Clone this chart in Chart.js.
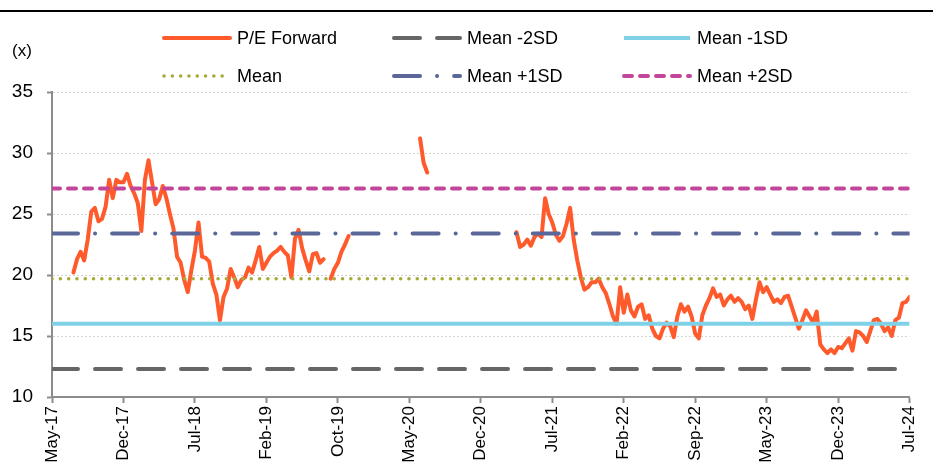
<!DOCTYPE html>
<html>
<head>
<meta charset="utf-8">
<script src="https://cdn.jsdelivr.net/npm/chart.js@4.4.1/dist/chart.umd.min.js"></script>
<style>
  body { margin: 0; background: #fff; }
  #wrap { width: 933px; height: 468px; position: relative; }
</style>
</head>
<body>
<div id="wrap"><canvas id="peChart"></canvas></div>
<script>
// x tick labels, one every 20 points
const tickLabels = ["May-17", "Dec-17", "Jul-18", "Feb-19", "Oct-19", "May-20", "Dec-20",
  "Jul-21", "Feb-22", "Sep-22", "May-23", "Dec-23", "Jul-24"];
const pointsPerTick = 20;

// P/E forward (x), gaps are null
const peForward = [
  null, null, null, null, null, null, 20.2, 21.3, 21.9, 21.2,
  22.9, 25.2, 25.5, 24.4, 24.6, 25.6, 27.8, 26.3, 27.8, 27.6,
  27.6, 28.3, 27.3, 26.7, 25.9, 23.6, 27.8, 29.4, 27.6, 25.8,
  26.2, 27.3, 26.3, 25.0, 23.8, 21.5, 21.0, 19.6, 18.6, 20.4,
  22.0, 24.3, 21.5, 21.4, 21.1, 19.3, 18.4, 16.3, 18.2, 18.9,
  20.5, 19.8, 19.0, 19.6, 19.8, 20.6, 20.2, 21.2, 22.3, 20.5,
  21.0, 21.5, 21.8, 22.0, 22.3, 21.9, 21.6, 19.8, 23.0, 23.7,
  22.2, 21.2, 20.3, 21.7, 21.8, 21.0, 21.3, null, 19.7, 20.5,
  21.0, 21.9, 22.5, 23.2, null, null, null, null, null, null,
  null, null, null, null, null, null, null, null, null, null,
  null, null, null, 31.2, 29.2, 28.4, null, null, null, null,
  null, null, null, null, null, null, null, null, null, null,
  null, null, null, null, null, null, null, null, null, null,
  23.5, 22.3, 22.5, 22.9, 22.4, 23.1, 23.4, 23.1, 26.3, 25.0,
  24.3, 23.3, 22.8, 23.2, 24.2, 25.5, 22.9, 21.2, 19.8, 18.8,
  19.0, 19.4, 19.4, 19.7, 19.0, 18.5, 17.6, 16.6, 16.0, 19.0,
  16.9, 18.4, 17.1, 16.6, 17.4, 17.6, 16.4, 16.7, 15.6, 15.0,
  14.8, 15.6, 16.1, 15.8, 14.9, 16.6, 17.6, 17.0, 17.4, 16.6,
  15.2, 14.8, 16.7, 17.5, 18.1, 18.9, 18.2, 18.4, 17.5, 18.0,
  18.3, 17.8, 18.1, 17.8, 17.2, 17.5, 16.4, 18.0, 19.4, 18.6,
  19.0, 18.4, 17.8, 18.0, 17.7, 18.2, 18.3, 17.4, 16.5, 15.6,
  16.3, 17.1, 16.6, 16.1, 17.0, 14.3, 13.9, 13.6, 13.9, 13.6,
  14.1, 14.0, 14.4, 14.8, 13.8, 15.4, 15.3, 15.0, 14.5, 15.4,
  16.3, 16.4, 16.0, 15.4, 15.7, 15.0, 16.3, 16.5, 17.7, 17.8,
  18.2
];

// mean and standard deviation bands
const bandNames = ["Mean -2SD", "Mean -1SD", "Mean", "Mean +1SD", "Mean +2SD"];
const bandLevels = [12.3, 16.0, 19.7, 23.4, 27.1];

const yTicks = [10, 15, 20, 25, 30, 35];

const lastX = (tickLabels.length - 1) * pointsPerTick;
const fontFamily = '"Liberation Sans", Arial, sans-serif';

const bandStyles = [
  { color: "#666666", dash: [26, 17], cap: "round", width: 4 },
  { color: "#7fd1e8", dash: [], cap: "butt", width: 4 },
  { color: "#a6ab3a", dash: [0.1, 8.2], cap: "round", width: 3.5 },
  { color: "#5b6699", dash: [26, 17, 0.1, 17], cap: "round", width: 4 },
  { color: "#c2479b", dash: [8, 8], cap: "round", width: 4 },
];

const datasets = [{
  label: "P/E Forward",
  data: peForward.map((v, i) => ({ x: i, y: v })),
  borderColor: "#ff5a2b",
  borderWidth: 4,
  borderCapStyle: "round",
  borderJoinStyle: "round",
  pointRadius: 0,
  spanGaps: false,
  order: 2,
}];
bandNames.forEach((name, k) => {
  const s = bandStyles[k];
  datasets.push({
    label: name,
    data: [{ x: 0, y: bandLevels[k] }, { x: lastX, y: bandLevels[k] }],
    borderColor: s.color,
    borderWidth: s.width,
    borderDash: s.dash,
    borderCapStyle: s.cap,
    pointRadius: 0,
    order: 1,
  });
});

// legend grid, rule at top and unit label
const decorPlugin = {
  id: "decor",
  afterDraw(chart) {
    const ctx = chart.ctx;
    ctx.save();
    ctx.strokeStyle = "#000";
    ctx.lineWidth = 2;
    ctx.beginPath();
    ctx.moveTo(0, 11);
    ctx.lineTo(chart.width, 11);
    ctx.stroke();

    ctx.fillStyle = "#000";
    ctx.font = "17px " + fontFamily;
    ctx.textBaseline = "middle";
    ctx.textAlign = "left";
    ctx.fillText("(x)", 12, 51);

    const cols = [162, 392, 622];
    const rows = [38, 76];
    chart.data.datasets.forEach((ds, n) => {
      const x = cols[n % 3];
      const y = rows[Math.floor(n / 3)];
      ctx.strokeStyle = ds.borderColor;
      ctx.lineWidth = ds.borderWidth;
      ctx.setLineDash(ds.borderDash || []);
      ctx.lineCap = ds.borderCapStyle || "butt";
      ctx.beginPath();
      ctx.moveTo(x + 2, y);
      ctx.lineTo(x + 68, y);
      ctx.stroke();
      ctx.setLineDash([]);
      ctx.fillStyle = "#000";
      ctx.font = "18px " + fontFamily;
      ctx.fillText(ds.label, x + 75, y + 1);
    });
    ctx.restore();
  },
};

new Chart(document.getElementById("peChart"), {
  type: "line",
  data: { datasets },
  options: {
    responsive: true,
    maintainAspectRatio: false,
    animation: false,
    layout: { padding: { top: 92, right: 17, left: 0, bottom: 0 } },
    plugins: { legend: { display: false }, tooltip: { enabled: false } },
    scales: {
      x: {
        type: "linear",
        min: 0,
        max: lastX,
        afterFit: (scale) => { scale.height = 71; },
        afterBuildTicks: (scale) => {
          scale.ticks = tickLabels.map((_, i) => ({ value: i * pointsPerTick }));
        },
        ticks: {
          autoSkip: false,
          maxRotation: 90,
          minRotation: 90,
          padding: 3,
          color: "#000",
          font: { family: fontFamily, size: 17 },
          callback: (v) => tickLabels[Math.round(v / pointsPerTick)],
        },
        grid: { drawOnChartArea: false, tickLength: 6, tickColor: "#8c8c8c", tickWidth: 2 },
        border: { color: "#8c8c8c", width: 2 },
      },
      y: {
        min: 10,
        max: 35,
        afterFit: (scale) => { scale.width = 52; },
        afterBuildTicks: (scale) => {
          scale.ticks = yTicks.map((v) => ({ value: v }));
        },
        ticks: {
          padding: 14,
          color: "#000",
          font: { family: fontFamily, size: 19 },
        },
        grid: {
          color: (c) => (c.tick && c.tick.value === 10 ? "rgba(0,0,0,0)" : "#d4d4d4"),
          lineWidth: 1,
          tickLength: 5,
          tickColor: "#8c8c8c",
          tickWidth: 2,
          tickBorderDash: [],
        },
        border: { color: "#8c8c8c", width: 2, dash: [2, 2] },
      },
    },
  },
  plugins: [decorPlugin],
});
</script>
</body>
</html>
